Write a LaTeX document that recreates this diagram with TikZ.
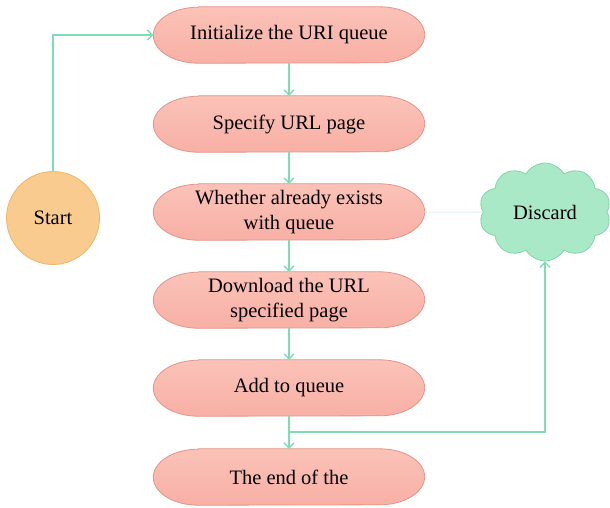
\documentclass[tikz,border=0pt]{standalone}
\usepackage{fontspec}
\setmainfont{Liberation Serif}
\usetikzlibrary{shapes.symbols,arrows.meta,backgrounds}
\definecolor{boxfill}{HTML}{F8B0A5}
\definecolor{boxtop}{HTML}{FBC2B8}
\definecolor{boxedge}{HTML}{E39486}
\definecolor{startfill}{HTML}{F9CB8E}
\definecolor{startedge}{HTML}{EFB766}
\definecolor{cloudfill}{HTML}{A9E9C8}
\definecolor{cloudedge}{HTML}{80D6A7}
\definecolor{link}{HTML}{7EDDB5}
\tikzset{
  labelfont/.style={font=\fontsize{20.5}{25}\selectfont},
  stepbox/.style={rectangle, minimum width=271pt, minimum height=56pt,
    align=center, labelfont, inner sep=0pt},
  stadium/.style={draw=boxedge, line width=0.8pt, top color=boxtop, bottom color=boxfill},
  startnode/.style={draw=startedge, line width=0.8pt, fill=startfill, circle,
    minimum size=93pt, labelfont, inner sep=0pt},
  cloudnode/.style={draw=cloudedge, line width=0.8pt, fill=cloudfill, cloud,
    cloud puffs=10, cloud puff arc=120, minimum width=132pt, minimum height=98pt,
    aspect=1.4, labelfont, inner sep=0pt},
  flow/.style={draw=link, line width=1.3pt, -{Straight Barb[length=5pt,width=10pt]}},
  faint/.style={draw=link!30, line width=1pt}
}
% pill outline with elliptical ends behind a step node
\newcommand\pillbehind[1]{%
  \path[stadium] ([xshift=45pt]#1.north west) -- ([xshift=-45pt]#1.north east)
    arc[start angle=90, end angle=-90, x radius=45pt, y radius=28pt]
    -- ([xshift=45pt]#1.south west)
    arc[start angle=270, end angle=90, x radius=45pt, y radius=28pt] -- cycle;}
\begin{document}
\begin{tikzpicture}[x=1pt,y=-1pt]
  \useasboundingbox (0,0) rectangle (610,507);
  \node[stepbox] (b1) at (289,35) {Initialize the URI queue};
  \node[stepbox] (b2) at (289,124) {Specify URL page};
  \node[stepbox] (b3) at (289,212) {Whether already exists\\with queue};
  \node[stepbox] (b4) at (289,300) {Download the URL\\specified page};
  \node[stepbox] (b5) at (289,388) {Add to queue};
  \node[stepbox] (b6) at (289,477) {The end of the};
  \node[startnode] (start) at (53,218) {Start};
  \node[cloudnode] (disc) at (545,212) {Discard};
  \coordinate (split) at (289,432);

  \begin{scope}[on background layer]
    \foreach \n in {b1,b2,b3,b4,b5,b6} {\pillbehind{\n}}
  \end{scope}

  \draw[flow] (start.north) |- (b1.west);
  \draw[flow] (b1) -- (b2);
  \draw[flow] (b2) -- (b3);
  \draw[flow] (b3) -- (b4);
  \draw[flow] (b4) -- (b5);
  \draw[flow] (b5) -- (b6);
  \draw[flow] (split) -| (disc.south);
  \draw[faint] (b3.east) -- (disc.west);
\end{tikzpicture}
\end{document}
